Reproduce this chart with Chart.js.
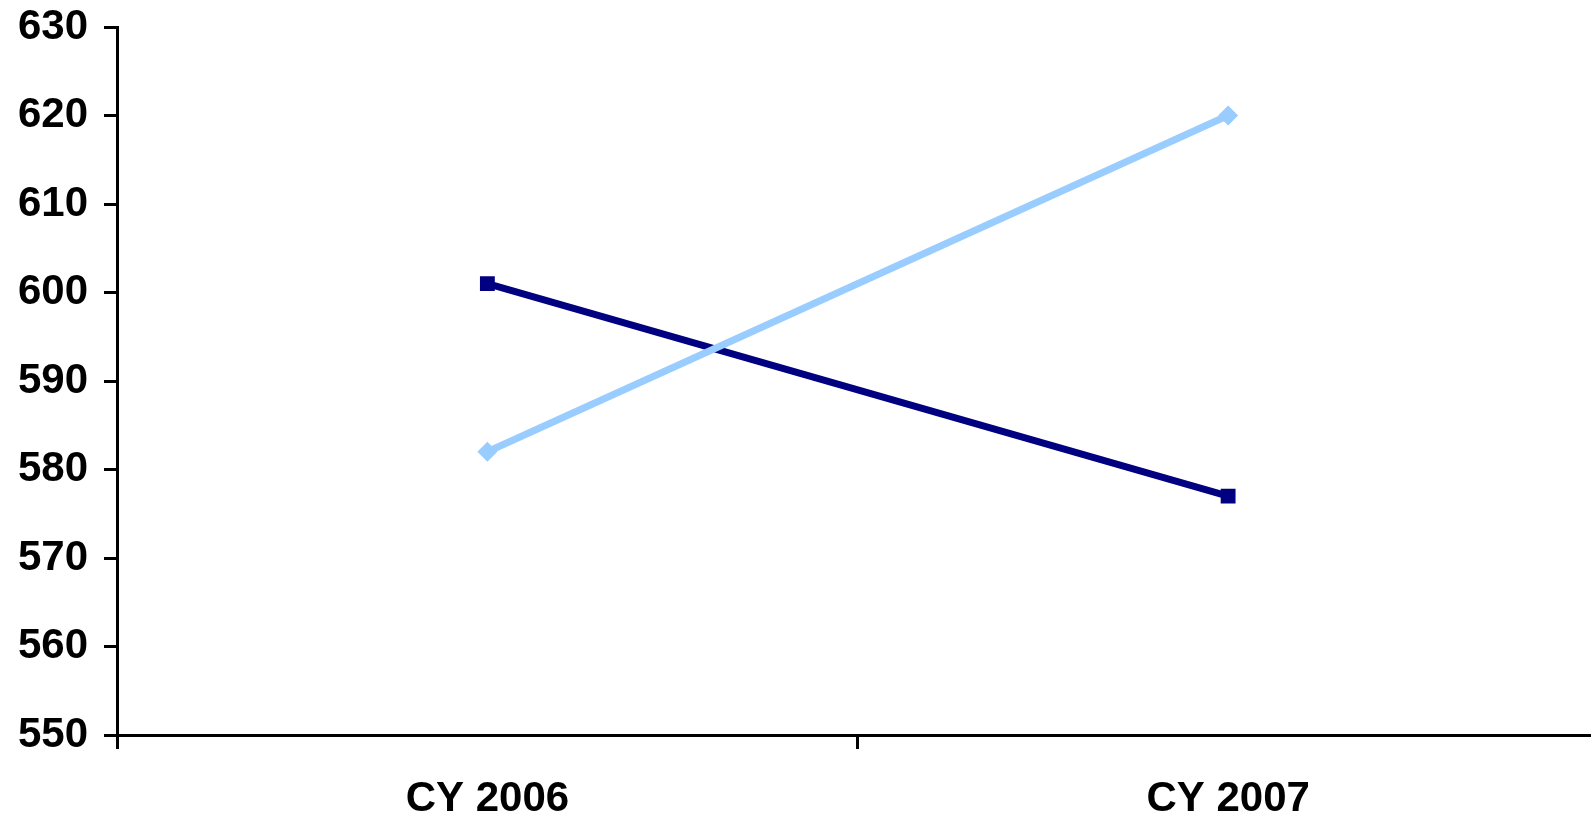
<!DOCTYPE html>
<html>
<head>
<meta charset="utf-8">
<script src="https://cdn.jsdelivr.net/npm/chart.js@4"></script>
<style>
  html, body { margin: 0; padding: 0; background: #fff; overflow: hidden; }
  canvas { display: block; }
</style>
</head>
<body>
<!-- a bit wider than the window: the plot runs off the right edge like the original -->
<canvas id="chart" width="1609" height="814"></canvas>
<script>
const categories = ["CY 2006", "CY 2007"];
const lightSeries = [582, 620];
const darkSeries = [601, 577];
const yTicks = [550, 560, 570, 580, 590, 600, 610, 620, 630];

const tickFont = { family: "'Liberation Sans', Arial, sans-serif", size: 42, weight: "bold" };

new Chart(document.getElementById("chart"), {
    type: "line",
    data: {
        labels: categories,
        datasets: [
            {
                data: lightSeries,
                borderColor: "#99CCFF",
                backgroundColor: "#99CCFF",
                borderWidth: 7,
                pointStyle: "rectRot",
                pointRadius: 10,
                pointBorderWidth: 0
            },
            {
                data: darkSeries,
                borderColor: "#000080",
                backgroundColor: "#000080",
                borderWidth: 7,
                pointStyle: "rect",
                pointRadius: 10.5,
                pointBorderWidth: 0
            }
        ]
    },
    options: {
        responsive: false,
        animation: false,
        layout: { padding: { left: 0, right: 0, top: 27, bottom: 0 } },
        plugins: {
            legend: { display: false },
            tooltip: { enabled: false }
        },
        scales: {
            x: {
                offset: true,
                grid: {
                    offset: true,
                    drawOnChartArea: false,
                    tickLength: 14,
                    tickWidth: 3,
                    color: (ctx) => ctx.index === undefined ? "rgba(0,0,0,0)" : "#000"
                },
                border: { color: "#000", width: 3 },
                ticks: { color: "#000", font: tickFont, padding: 25, maxRotation: 0 },
                afterFit: (scale) => {
                    scale.height = 79;
                    scale.paddingLeft = 0;
                    scale.paddingRight = 0;
                }
            },
            y: {
                min: 550,
                max: 630,
                afterBuildTicks: (scale) => { scale.ticks = yTicks.map(v => ({ value: v })); },
                grid: {
                    drawOnChartArea: false,
                    tickLength: 13,
                    tickWidth: 3,
                    color: "#000"
                },
                border: { color: "#000", width: 3 },
                ticks: { color: "#000", font: tickFont, padding: 16 },
                afterFit: (scale) => {
                    scale.width = 117;
                    scale.paddingTop = 0;
                    scale.paddingBottom = 0;
                }
            }
        }
    }
});
</script>
</body>
</html>
